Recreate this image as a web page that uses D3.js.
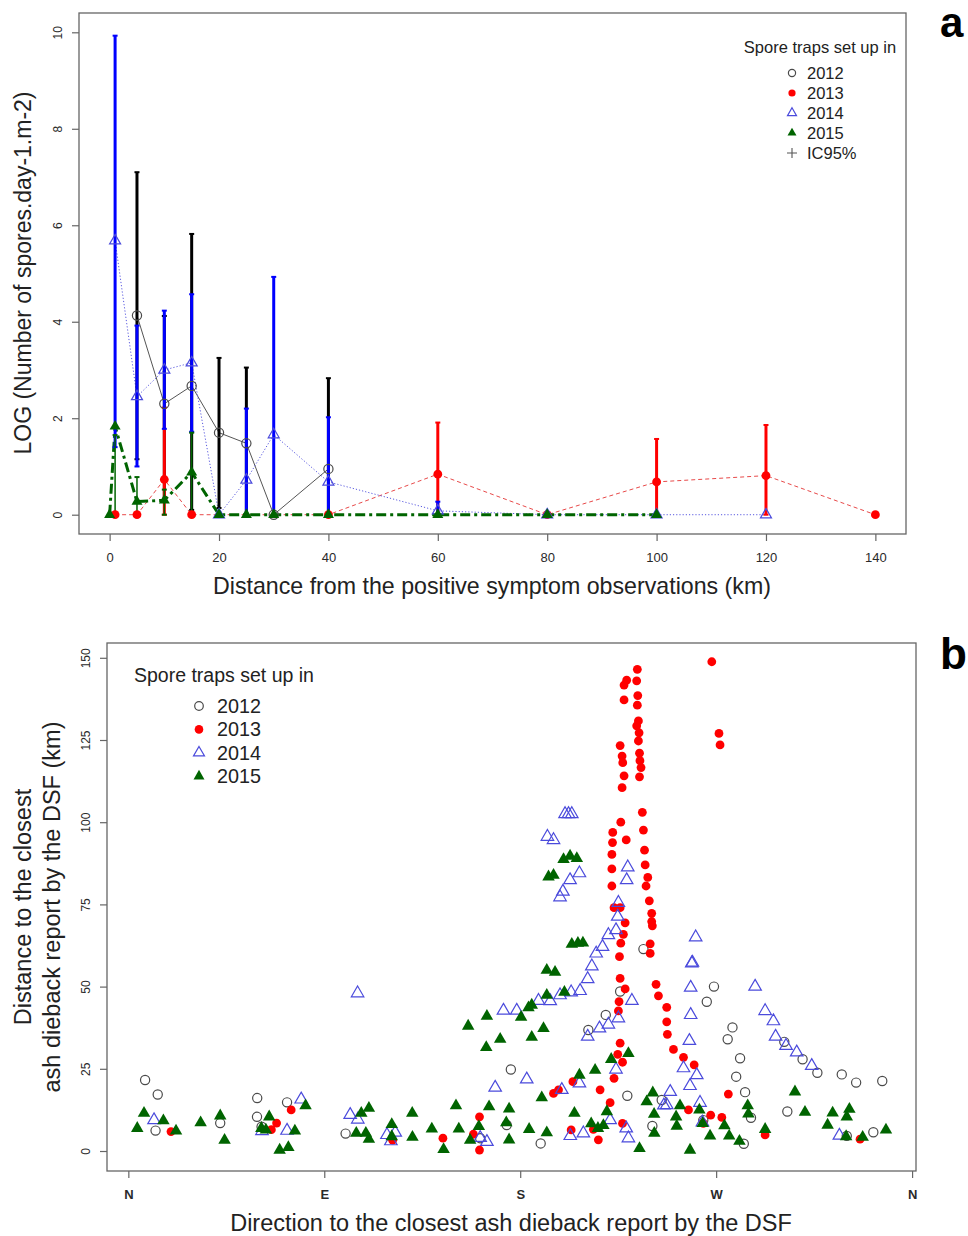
<!DOCTYPE html>
<html>
<head>
<meta charset="utf-8">
<script src="https://cdn.jsdelivr.net/npm/d3@7/dist/d3.min.js"></script>
<style>
  body { margin: 0; background: #fff; }
</style>
</head>
<body>
<svg id="svg" width="968" height="1236"></svg>
<script>
// ---------- panel a data (km, log value, IC95% low / high) ----------
const xTicksA = [0, 20, 40, 60, 80, 100, 120, 140];
const yTicksA = [0, 2, 4, 6, 8, 10];

const km2012 = [5, 10, 15, 20, 25, 30, 40];
const log2012 = [4.13, 2.30, 2.67, 1.70, 1.48, 0, 0.95];
const lo2012 = [1.15, 0.30, 0.10, 0.14, 0, 0, 0];
const hi2012 = [7.10, 4.12, 5.82, 3.25, 3.05, 0, 2.83];

const km2013 = [1, 5, 10, 15, 40, 60, 80, 100, 120, 140];
const log2013 = [0, 0, 0.73, 0, 0, 0.84, 0, 0.68, 0.81, 0];
const lo2013 = [0, 0, 0, 0, 0, 0, 0, 0, 0, 0];
const hi2013 = [0, 0, 2.22, 0, 0, 1.91, 0, 1.57, 1.86, 0];

const km2014 = [1, 5, 10, 15, 20, 25, 30, 40, 60, 80, 100, 120];
const log2014 = [5.68, 2.45, 3.00, 3.15, 0, 0.72, 1.66, 0.68, 0.08, 0, 0, 0];
const lo2014 = [1.40, 1.00, 1.78, 1.72, 0, 0, 0, 0, 0, 0, 0, 0];
const hi2014 = [9.93, 3.92, 4.23, 4.57, 0, 2.20, 4.93, 2.02, 0.27, 0, 0, 0];

const km2015 = [0, 1, 5, 10, 15, 20, 25, 30, 40, 60, 80, 100];
const log2015 = [0, 1.83, 0.27, 0.30, 0.88, 0, 0, 0, 0, 0, 0, 0];
const lo2015 = [0, 0, 0, 0, 0, 0, 0, 0, 0, 0, 0, 0];
const hi2015 = [0, 1.65, 0.78, 0.52, 1.70, 0, 0, 0, 0, 0, 0, 0];

const years = ["2012", "2013", "2014", "2015"];

// ---------- panel b data ([direction in degrees, distance km]) ----------
const dirTicks = [0, 90, 180, 270, 360];
const dirLabels = ["N", "E", "S", "W", "N"];
const yTicksB = [0, 25, 50, 75, 100, 125, 150];

const b2012 = [[7.7,21.6],[13.5,17.2],[12.5,6.2],[42.2,8.5],[59.2,16.1],[59.1,10.4],[61.2,7.4],[72.9,14.8],[99.8,5.3],
  [175.7,24.8],[173.8,7.9],[161.6,3.9],[189.4,2.3],[225.9,48.5],[269.0,50.0],[265.7,45.4],[219.3,41.4],[211.3,36.8],
  [277.5,37.6],[275.3,34.0],[281.0,28.2],[279.2,22.6],[283.3,17.9],[229.2,16.8],[245.0,15.5],[264.1,9.4],[240.7,7.6],
  [286.0,10.1],[282.7,2.2],[302.7,12.0],[301.3,33.2],[309.7,27.9],[316.5,23.8],[327.7,23.3],[334.3,20.8],[346.3,21.3],
  [342.2,5.7],[330.0,4.6],[236.6,61.4]];

const b2013 = [[19.6,5.9],[74.8,12.5],[68.1,8.5],[65.7,6.5],[121.4,3.3],[144.5,3.9],[161.3,10.4],[158.5,5.1],[161.3,0.3],
  [225.9,52.5],[228.2,49.3],[225.4,45.4],[225.1,42.6],[225.9,32.8],[224.8,29.4],[227.0,27.0],[223.1,22.1],[204.2,21.1],
  [197.6,18.6],[195.3,17.5],[216.7,18.6],[221.3,14.7],[227.0,8.4],[203.4,6.4],[213.6,6.6],[215.9,3.4],
  [242.4,50.7],[243.5,47.2],[247.3,43.7],[247.3,39.3],[247.6,35.5],[250.4,30.9],[255.0,28.5],[259.9,26.2],[275.6,17.3],
  [257.3,12.5],[264.1,8.4],[267.5,10.9],[272.6,10.2],[292.5,4.9],[336.1,3.6],
  [236.1,103.0],[226.2,100.0],[222.5,96.9],[228.7,94.6],[236.6,97.6],[222.4,93.8],[237.1,91.5],[222.1,90.2],[237.4,87.0],
  [222.1,85.8],[238.6,83.2],[237.8,80.6],[222.1,80.6],[239.3,76.1],[240.4,72.3],[240.4,69.8],[240.7,68.5],[223.1,74.0],
  [225.9,74.0],[228.2,69.4],[227.4,65.9],[226.2,63.2],[225.6,59.1],[239.7,63.0],[239.7,60.1],
  [268.0,148.8],[271.3,127.0],[271.8,123.5],[233.8,146.5],[233.5,143.0],[228.9,143.2],[227.7,141.7],[227.7,137.2],
  [234.0,138.5],[233.8,135.6],[234.3,130.8],[233.5,129.3],[234.6,127.2],[234.3,124.7],[225.9,123.3],[234.8,121.0],
  [226.8,120.1],[227.1,118.1],[235.0,118.7],[235.5,116.6],[234.8,113.8],[227.7,114.1],[226.8,110.5]];

const b2014 = [[11.8,9.4],[61.4,6.1],[79.4,15.7],[72.9,6.2],[101.9,11.0],[105.4,9.6],[105.3,48.0],[118.8,4.9],[122.6,5.6],
  [120.6,3.0],[161.6,4.0],[172.3,42.7],[178.4,42.7],[188.4,45.7],[183.0,21.8],[168.5,19.3],[164.7,2.8],
  [212.9,56.2],[211.0,52.3],[207.5,48.7],[203.4,48.3],[198.3,47.4],[193.8,45.6],[231.3,45.7],[225.1,40.4],[220.5,38.5],
  [216.4,37.3],[211.0,34.8],[258.8,57.1],[258.3,49.7],[258.3,41.4],[257.7,33.5],[287.9,50.0],[224.0,24.8],[255.0,25.2],
  [261.1,23.1],[258.0,19.8],[248.9,18.0],[207.2,20.6],[199.1,18.6],[247.3,14.0],[246.0,13.9],[262.6,14.7],[221.3,9.4],
  [228.7,6.9],[229.7,3.9],[209.0,5.4],[203.0,4.6],[263.7,8.7],[292.5,42.6],[296.3,39.5],[297.3,34.8],[302.1,32.0],
  [307.0,30.0],[313.9,25.9],[326.6,4.7],
  [200.6,102.5],[202.2,102.5],[203.7,102.5],[192.5,95.6],[195.3,94.6],[229.4,86.3],[228.9,82.4],[207.2,84.5],[202.9,82.4],
  [199.6,78.9],[198.3,77.2],[225.1,75.5],[224.8,71.3],[224.0,67.2],[220.5,65.7],[217.8,62.1],[214.9,60.1],[260.6,65.0],
  [259.1,57.3]];

const b2015 = [[4.1,6.9],[7.2,11.5],[16.1,9.2],[21.9,6.1],[33.2,8.6],[42.2,10.7],[44.2,3.3],[64.7,10.4],[61.1,6.9],
  [63.2,6.4],[69.5,0.3],[73.5,1.1],[76.5,6.1],[81.4,13.8],[104.7,5.4],[107.0,11.5],[110.5,13.0],[109.1,5.4],[110.5,3.6],
  [121.0,8.1],[121.0,4.4],[130.4,11.5],[130.5,4.2],[139.4,6.7],[144.8,0.5],[150.5,13.8],[151.8,6.7],[156.1,38.0],
  [157.0,3.3],[161.0,7.5],[164.7,41.0],[170.8,34.0],[164.4,31.5],[180.4,40.7],[183.8,43.6],[185.3,44.4],[190.7,37.3],
  [185.3,34.6],[192.2,55.0],[192.2,47.4],[189.9,16.2],[165.7,13.5],[174.9,12.8],[173.6,8.6],[174.9,3.4],[184.1,6.6],
  [192.2,5.6],[196.0,54.4],[200.3,48.3],[214.4,24.6],[221.8,27.9],[229.7,29.7],[207.2,23.1],[204.9,11.5],[219.8,12.0],
  [240.9,17.7],[238.1,15.0],[241.5,11.2],[251.6,10.4],[253.4,13.8],[262.3,12.5],[251.9,7.6],[241.6,5.4],[212.6,8.3],
  [215.7,6.9],[218.2,7.8],[234.8,0.8],[258.0,0.3],[267.2,4.6],[273.8,7.7],[276.0,4.6],[280.7,3.0],[284.5,13.8],
  [284.8,11.3],[263.8,8.4],[306.2,18.0],[310.8,11.8],[323.5,11.6],[331.2,12.7],[330.0,10.4],[321.2,7.9],[329.7,4.4],
  [337.3,4.2],[348.0,6.4],[292.5,6.6],[199.9,88.7],[202.9,89.7],[206.0,89.0],[193.0,83.4],[195.3,83.9],[203.7,62.9],
  [206.5,63.2],[208.8,63.3]];

// ---------- drawing ----------
const FONT = "'Liberation Sans', Arial, Helvetica, sans-serif";
const svg = d3.select("#svg").attr("font-family", FONT);

const C_GRAY = "#4a4a4a", C_RED = "#ff0000", C_BLUE = "#4b4bdc", C_GREEN = "#006400";

const tri = s => d3.symbol().type(d3.symbolTriangle).size(Math.sqrt(3) / 4 * s * s)();

function styleAxis(g, size) {
  g.attr("font-family", FONT).attr("font-size", size);
  g.select(".domain").remove();
  g.selectAll(".tick line").attr("stroke", "#666").attr("stroke-width", 1.2);
  g.selectAll(".tick text").attr("fill", "#2a2a2a");
}
function rotateTicks(g, d) {
  g.selectAll(".tick text")
    .attr("transform", "rotate(-90)")
    .attr("x", 0).attr("y", -d).attr("dy", null)
    .attr("text-anchor", "middle");
}
function frame(x, y) {
  const [x0, x1] = x.range(), [y0, y1] = y.range();
  svg.append("rect")
    .attr("x", x0).attr("y", y1).attr("width", x1 - x0).attr("height", y0 - y1)
    .attr("fill", "none").attr("stroke", "#666").attr("stroke-width", 1.3);
}
function marker(sel, kind, r, s) {
  if (kind === "open-circle") {
    sel.append("circle").attr("r", r).attr("fill", "none").attr("stroke", C_GRAY).attr("stroke-width", 1.2);
  } else if (kind === "dot") {
    sel.append("circle").attr("r", r).attr("fill", C_RED);
  } else if (kind === "open-tri") {
    sel.append("path").attr("d", tri(s)).attr("fill", "none").attr("stroke", C_BLUE).attr("stroke-width", 1.2);
  } else {
    sel.append("path").attr("d", tri(s)).attr("fill", C_GREEN);
  }
}

// ===== panel a =====
const xa = d3.scaleLinear().domain([-5.6, 145.6]).range([79, 906]);
const ya = d3.scaleLinear().domain([-0.4, 10.4]).range([534, 13]);

frame(xa, ya);
svg.append("g").attr("transform", `translate(0,${ya.range()[0]})`)
  .call(d3.axisBottom(xa).tickValues(xTicksA).tickSize(7).tickPadding(12))
  .call(g => styleAxis(g, 13));
svg.append("g").attr("transform", `translate(${xa.range()[0]},0)`)
  .call(d3.axisLeft(ya).tickValues(yTicksA).tickSize(7))
  .call(g => styleAxis(g, 12))
  .call(g => rotateTicks(g, 17));

const seriesA = [
  { km: km2012, v: log2012, lo: lo2012, hi: hi2012, line: "#555", dash: null, lw: 1, bar: "#000", bw: 3, kind: "open-circle" },
  { km: km2013, v: log2013, lo: lo2013, hi: hi2013, line: "#e84a4a", dash: "4,3", lw: 1, bar: C_RED, bw: 3, kind: "dot" },
  { km: km2014, v: log2014, lo: lo2014, hi: hi2014, line: "#5a5ae0", dash: "1.2,2", lw: 1, bar: "#0000ff", bw: 3, kind: "open-tri" },
  { km: km2015, v: log2015, lo: lo2015, hi: hi2015, line: C_GREEN, dash: "10,4,3,4", lw: 3, bar: C_GREEN, bw: 1.5, kind: "tri" }
];

const lineA = d3.line().x(d => xa(d[0])).y(d => ya(d[1]));
seriesA.forEach(s => {
  svg.append("path")
    .attr("d", lineA(s.km.map((k, i) => [k, s.v[i]])))
    .attr("fill", "none").attr("stroke", s.line).attr("stroke-width", s.lw)
    .attr("stroke-dasharray", s.dash);
});
seriesA.forEach(s => {
  const bars = s.km.map((k, i) => ({ k, lo: s.lo[i], hi: s.hi[i] })).filter(d => d.hi > d.lo);
  const g = svg.append("g").attr("stroke", s.bar);
  g.selectAll("line.bar").data(bars).join("line")
    .attr("x1", d => xa(d.k)).attr("x2", d => xa(d.k))
    .attr("y1", d => ya(d.lo)).attr("y2", d => ya(d.hi))
    .attr("stroke-width", s.bw);
  ["lo", "hi"].forEach(end => {
    g.selectAll("line.cap" + end).data(bars).join("line")
      .attr("x1", d => xa(d.k) - 2.5).attr("x2", d => xa(d.k) + 2.5)
      .attr("y1", d => ya(d[end])).attr("y2", d => ya(d[end]))
      .attr("stroke-width", 2);
  });
});
seriesA.forEach(s => {
  s.km.forEach((k, i) => {
    const g = svg.append("g").attr("transform", `translate(${xa(k)},${ya(s.v[i])})`);
    marker(g, s.kind, s.kind === "dot" ? 4.4 : 4.6, 11);
  });
});

// legend a
svg.append("text").attr("x", 820).attr("y", 52.5).attr("text-anchor", "middle")
  .attr("font-size", 16.5).attr("fill", "#222").text("Spore traps set up in");
const legA = years.concat(["IC95%"]);
legA.forEach((t, i) => {
  const cy = 73 + i * 20;
  const g = svg.append("g").attr("transform", `translate(792,${cy})`);
  if (i < 4) marker(g, seriesA[i].kind, 3.6, 9);
  else {
    g.append("path").attr("d", "M-5,0H5M0,-5V5").attr("stroke", "#555").attr("stroke-width", 1.1);
  }
  svg.append("text").attr("x", 807).attr("y", cy + 6).attr("font-size", 16.5).attr("fill", "#222").text(t);
});

svg.append("text").attr("x", 492).attr("y", 593.5).attr("text-anchor", "middle")
  .attr("font-size", 23.2).attr("fill", "#222").text("Distance from the positive symptom observations (km)");
svg.append("text").attr("transform", "translate(31,273) rotate(-90)").attr("text-anchor", "middle")
  .attr("font-size", 23).attr("fill", "#222").text("LOG (Number of spores.day-1.m-2)");
svg.append("text").attr("x", 940).attr("y", 37).attr("font-size", 42).attr("font-weight", "bold").text("a");

// ===== panel b =====
const xb = d3.scaleLinear().domain([-9.8, 361.8]).range([107, 916]);
const yb = d3.scaleLinear().domain([-6.08, 154.5]).range([1171, 643]);

frame(xb, yb);
svg.append("g").attr("transform", `translate(0,${yb.range()[0]})`)
  .call(d3.axisBottom(xb).tickValues(dirTicks).tickFormat((d, i) => dirLabels[i]).tickSize(7).tickPadding(12))
  .call(g => styleAxis(g, 13))
  .call(g => g.selectAll(".tick text").attr("font-weight", "bold"));
svg.append("g").attr("transform", `translate(${xb.range()[0]},0)`)
  .call(d3.axisLeft(yb).tickValues(yTicksB).tickSize(7))
  .call(g => styleAxis(g, 12))
  .call(g => rotateTicks(g, 17));

const seriesB = [
  { pts: b2012, kind: "open-circle" },
  { pts: b2013, kind: "dot" },
  { pts: b2014, kind: "open-tri" },
  { pts: b2015, kind: "tri" }
];
seriesB.forEach(s => {
  s.pts.forEach(p => {
    const g = svg.append("g").attr("transform", `translate(${xb(p[0])},${yb(p[1])})`);
    marker(g, s.kind, s.kind === "dot" ? 4.4 : 4.6, 12.5);
  });
});

// legend b
svg.append("text").attr("x", 134).attr("y", 682).attr("font-size", 19.5).attr("fill", "#222")
  .text("Spore traps set up in");
years.forEach((t, i) => {
  const cy = 706 + i * 23.4;
  const g = svg.append("g").attr("transform", `translate(199,${cy})`);
  marker(g, seriesB[i].kind, 4.3, 11);
  svg.append("text").attr("x", 217).attr("y", cy + 7).attr("font-size", 19.8).attr("fill", "#222").text(t);
});

svg.append("text").attr("x", 511).attr("y", 1231).attr("text-anchor", "middle")
  .attr("font-size", 23.5).attr("fill", "#222").text("Direction to the closest ash dieback report by the DSF");
svg.append("text").attr("transform", "translate(30.5,907) rotate(-90)").attr("text-anchor", "middle")
  .attr("font-size", 23.5).attr("fill", "#222").text("Distance to the closest");
svg.append("text").attr("transform", "translate(59.5,907) rotate(-90)").attr("text-anchor", "middle")
  .attr("font-size", 23.5).attr("fill", "#222").text("ash dieback report by the DSF (km)");
svg.append("text").attr("x", 940).attr("y", 669).attr("font-size", 44).attr("font-weight", "bold").text("b");
</script>
</body>
</html>
